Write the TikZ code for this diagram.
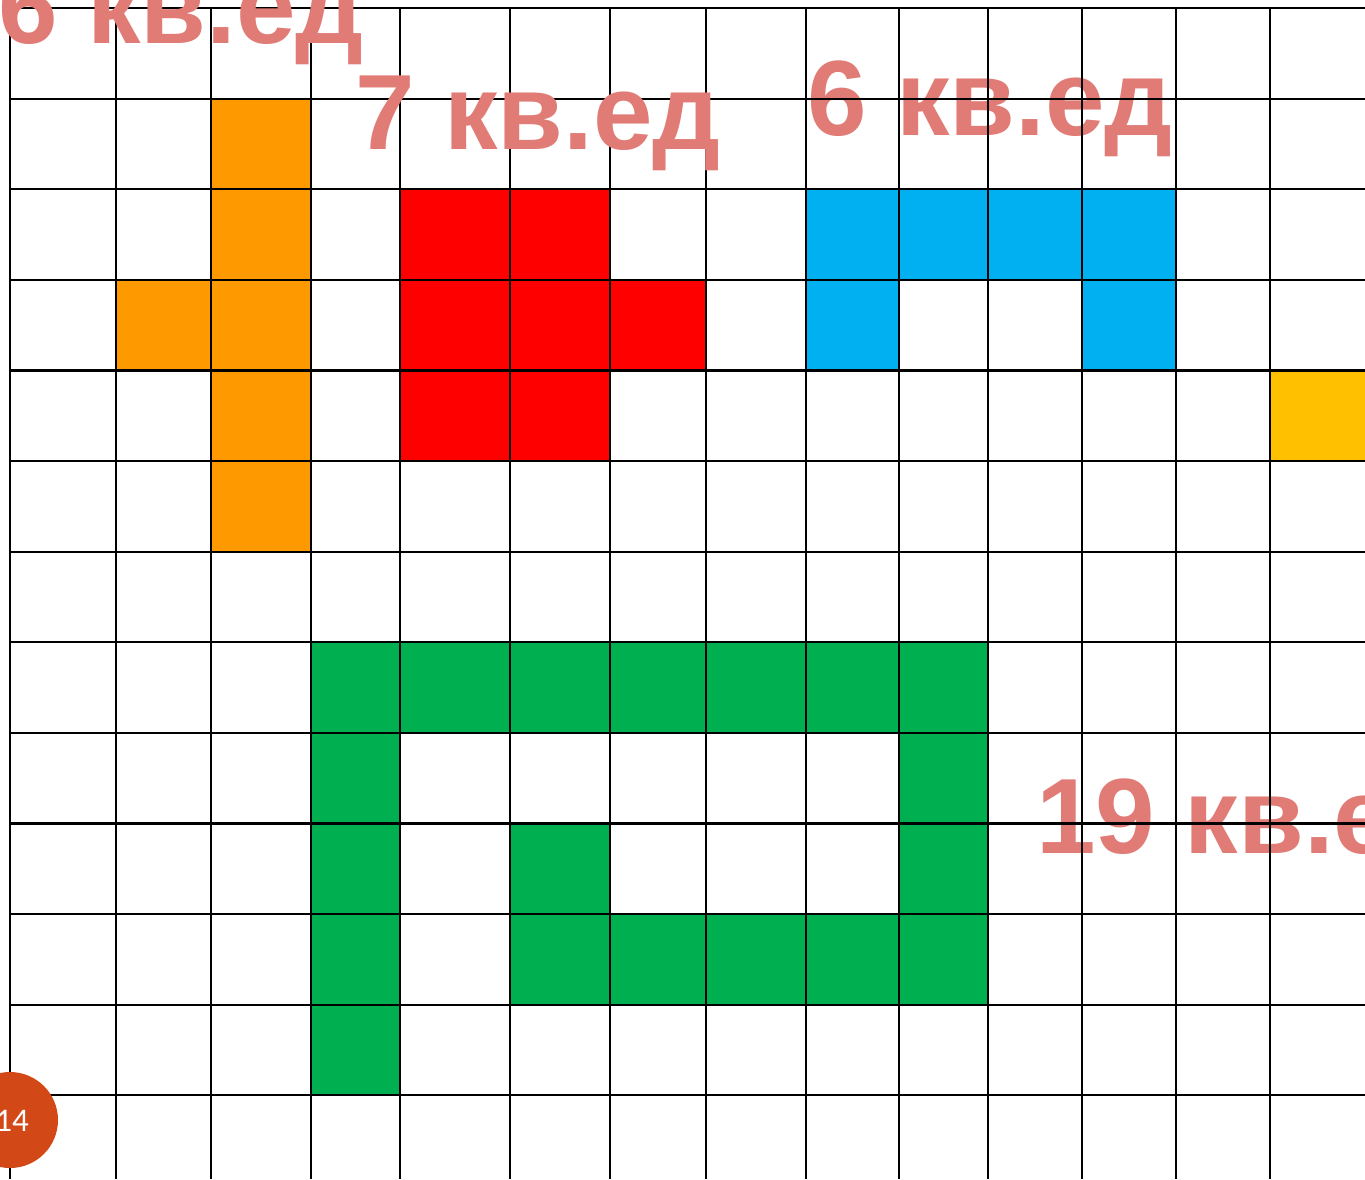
\documentclass[tikz,border=0pt]{standalone}
\usepackage{fontspec}
\setmainfont{Liberation Sans}
\newfontfamily\pagefont{Carlito}
\usetikzlibrary{positioning}
\definecolor{figorange}{RGB}{255,153,0}
\definecolor{figred}{RGB}{255,0,0}
\definecolor{figblue}{RGB}{0,176,240}
\definecolor{figyellow}{RGB}{255,192,0}
\definecolor{figgreen}{RGB}{0,176,80}
\definecolor{areatext}{RGB}{224,123,118}
\definecolor{pagecol}{RGB}{211,72,23}
% column edges of the squared paper (pixels), rows are even
\def\colx{{10,116,211,311,400,510,610,706,806,899,988,1082,1176,1270,1365}}
\newcommand{\cell}[3]{%
  \pgfmathsetmacro{\xa}{\colx[#2]}%
  \pgfmathsetmacro{\xb}{\colx[#2+1]}%
  \fill[#1] (\xa,{8+90.6*#3}) rectangle (\xb,{8+90.6*(#3+1)});}

\begin{document}
\begin{tikzpicture}[x=1pt,y=-1pt,
  gridline/.style={line width=2.2pt,black},
  area/.style={font=\bfseries\fontsize{107}{122}\selectfont,text=areatext,inner sep=0pt,anchor=base west}]
  \useasboundingbox (0,0) rectangle (1365,1179);
  \clip (0,0) rectangle (1365,1179);

  % the coloured figures
  \foreach \c/\r in {2/1,2/2,1/3,2/3,2/4,2/5} \cell{figorange}{\c}{\r};
  \foreach \c/\r in {4/2,5/2,4/3,5/3,6/3,4/4,5/4} \cell{figred}{\c}{\r};
  \foreach \c/\r in {8/2,9/2,10/2,11/2,8/3,11/3} \cell{figblue}{\c}{\r};
  \cell{figyellow}{13}{4}
  \foreach \c in {3,...,9} \cell{figgreen}{\c}{7};
  \foreach \c/\r in {3/8,3/9,3/10,3/11,9/8,9/9,5/9,5/10,6/10,7/10,8/10,9/10}
    \cell{figgreen}{\c}{\r};

  % labels that lie under the lines
  \node[area] (areablue) at (807,135) {6 кв.ед};
  \node[area] (areagreen) at (1036,853) {19 кв.ед};

  % squared paper
  \foreach \x in {10,116,211,311,400,510,610,706,806,899,988,1082,1176,1270}
    \draw[gridline] (\x,8) -- (\x,1179);
  \foreach \r in {0,...,12}
    \draw[gridline] (10,{8+90.6*\r}) -- (1365,{8+90.6*\r});

  % labels on top
  \node[area] (areaorange) at (-2,43) {6 кв.ед};
  \node[area] (areared) at (355,149) {7 кв.ед};

  % slide number
  \fill[pagecol] (10,1120) circle (48);
  \node[text=white,font=\pagefont\fontsize{33}{40}\selectfont,inner sep=0pt] (pagenum) at (12,1121) {14};
\end{tikzpicture}
\end{document}
